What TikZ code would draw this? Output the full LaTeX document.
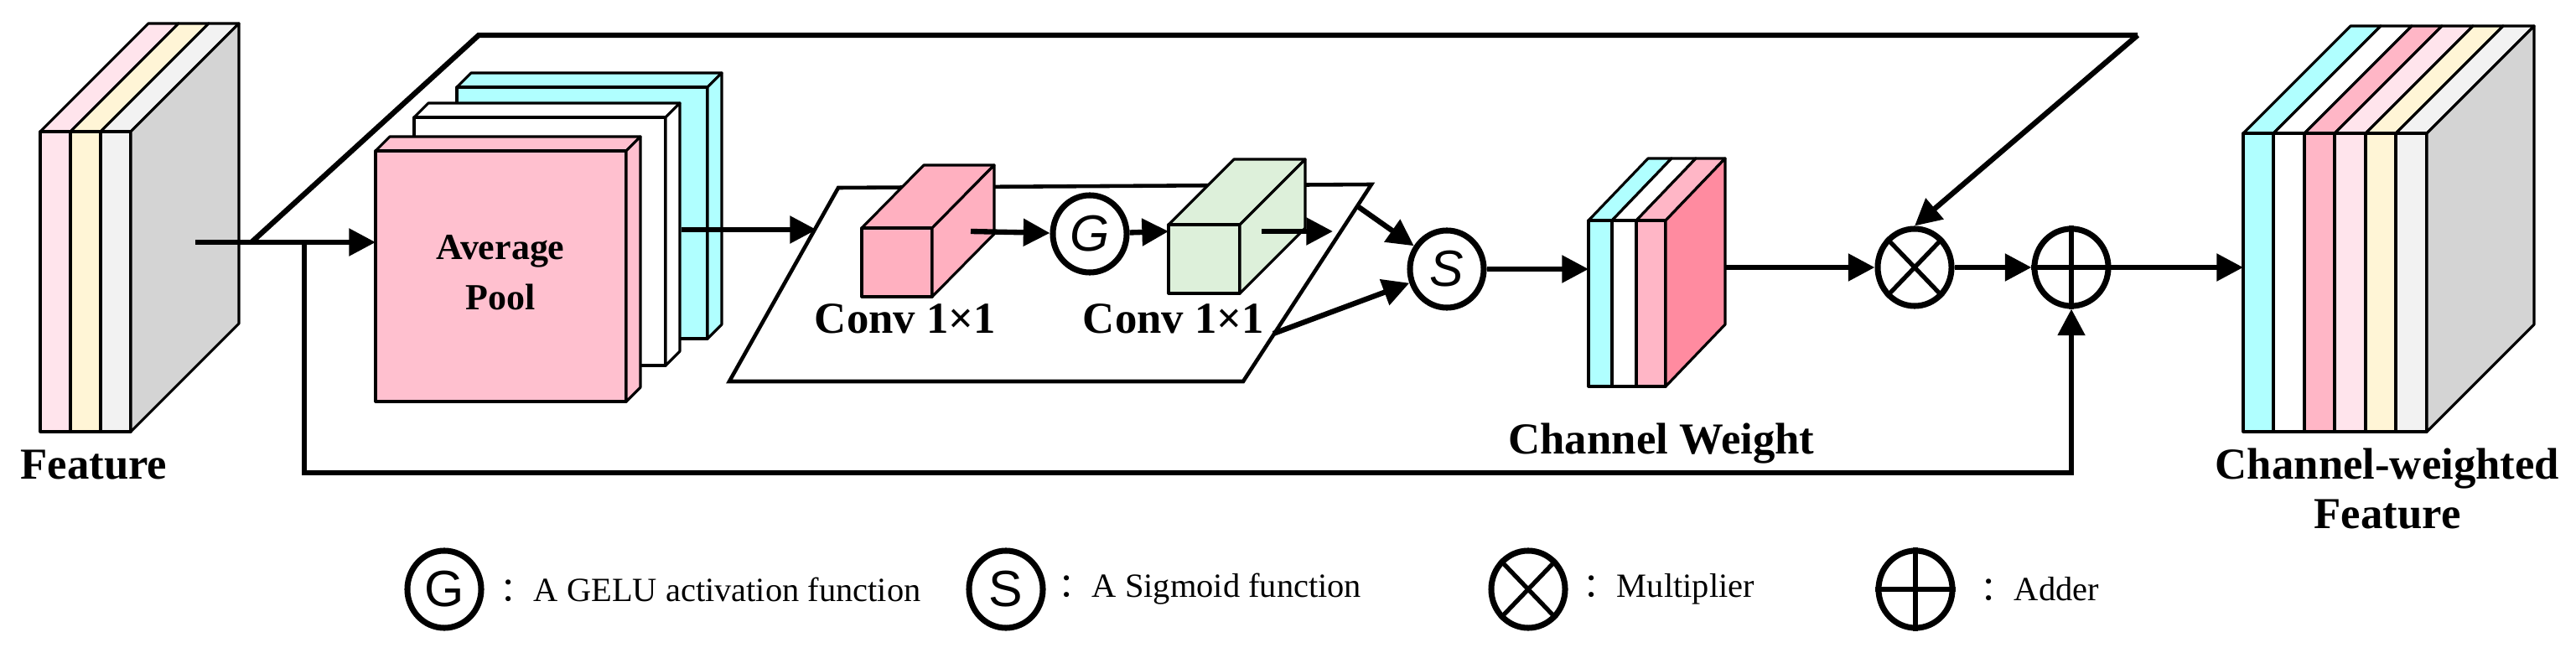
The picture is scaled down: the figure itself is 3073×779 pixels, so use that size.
\documentclass[tikz,border=0pt]{standalone}
\usepackage{fontspec}
\setmainfont{Liberation Serif}
\newfontfamily\cjk{Noto Sans CJK SC}
\newfontfamily\opfont{Liberation Sans}
\usetikzlibrary{arrows.meta, positioning, calc, shapes.geometric}
\definecolor{featpink}{HTML}{FFE4EC}
\definecolor{featyellow}{HTML}{FFF5D6}
\definecolor{featgray}{HTML}{F2F2F2}
\definecolor{sidegray}{HTML}{D4D4D4}
\definecolor{poolpink}{HTML}{FFC0CF}
\definecolor{poolcyan}{HTML}{B0FFFF}
\definecolor{convpink}{HTML}{FFB0C0}
\definecolor{convgreen}{HTML}{DDF0DA}
\definecolor{wpink}{HTML}{FFB6C6}
\definecolor{wside}{HTML}{FF8BA0}
\tikzset{
    face/.style={draw=black, line width=0.9pt, line join=round},
    line/.style={draw=black, line width=1.8pt, -{Triangle[length=9pt, width=9pt]}},
    plain/.style={draw=black, line width=1.8pt},
    op/.style={draw=black, line width=2pt, ellipse, minimum width=0.88cm, minimum height=0.92cm, inner sep=0pt, fill=white, font=\opfont\LARGE},
    label/.style={font=\bfseries\fontsize{15}{17}\selectfont, align=center},
    legend/.style={font=\fontsize{11.5}{13}\selectfont, anchor=west}
}
% one strip: front face and top face
\newcommand{\strip}[7]{%
    \filldraw[face, fill=#7] (#1,#3) -- ({#1+#5},{#3-#6}) -- ({#2+#5},{#3-#6}) -- (#2,#3) -- cycle;
    \filldraw[face, fill=#7] (#1,#3) rectangle (#2,#4);
}
% side face of a stack
\newcommand{\side}[6]{%
    \filldraw[face, fill=#6] (#1,#2) -- ({#1+#4},{#2-#5}) -- ({#1+#4},{#3-#5}) -- (#1,#3) -- cycle;
}
\newcommand{\cube}[7]{\strip{#1}{#2}{#3}{#4}{#5}{#6}{#7}\side{#2}{#3}{#4}{#5}{#6}{#7}}
\begin{document}
\begin{tikzpicture}[x=0.01cm, y=-0.01cm]
    \useasboundingbox (0,0) rectangle (3073,779);

    % input feature
    \strip{48}{84}{157}{515}{129}{129}{featpink}
    \strip{84}{120}{157}{515}{129}{129}{featyellow}
    \strip{120}{156}{157}{515}{129}{129}{featgray}
    \side{156}{157}{515}{129}{129}{sidegray}
    \node [label] (Feature) at (112,555) {Feature};

    % skip branch and top branch
    \coordinate (Src) at (233,289);
    \coordinate (Fork) at (300,289);
    \coordinate (Skip) at (363,289);
    \coordinate (TopL) at (571,42);
    \coordinate (TopR) at (2550,42);
    \draw [plain] (Fork) -- (TopL) -- (TopR);

    % average pool
    \cube{545}{844}{104}{404}{17}{17}{poolcyan}
    \cube{494}{794}{140}{436}{17}{17}{white}
    \cube{448}{747}{180}{479}{17}{17}{poolpink}
    \node [font=\bfseries\fontsize{12.5}{17}\selectfont, align=center] (Pool) at (597,325) {Average\\Pool};
    \coordinate (PoolIn) at (448,289);
    \coordinate (PoolOut) at (813,274);
    \coordinate (ParaIn) at (974,274);

    % squeeze plane
    \filldraw [draw=black, line width=1.3pt, fill=white] (870,455) -- (1000,224) -- (1636,220) -- (1483,455) -- cycle;
    \cube{1028}{1112}{272}{354}{74}{75}{convpink}
    \cube{1394}{1479}{268}{350}{78}{78}{convgreen}
    \node [label] (ConvA) at (1080,380) {Conv 1×1};
    \node [label] (ConvB) at (1400,380) {Conv 1×1};
    \node [op] (G) at (1300,279) {\textit{G}};
    \node [op] (S) at (1726,321) {\textit{S}};
    \coordinate (ConvAOut) at (1158,276);
    \coordinate (ConvBIn) at (1394,276);
    \coordinate (ConvBOut) at (1505,276);
    \coordinate (ConvBEnd) at (1590,276);
    \coordinate (ParaTop) at (1618,245);
    \coordinate (ParaBot) at (1519,398);

    % channel weight
    \strip{1895}{1923}{263}{461}{71}{74}{poolcyan}
    \strip{1923}{1952}{263}{461}{71}{74}{white}
    \strip{1952}{1987}{263}{461}{71}{74}{wpink}
    \side{1987}{263}{461}{71}{74}{wside}
    \node [label] (Weight) at (1982,529) {Channel Weight};
    \coordinate (WeightIn) at (1895,321);
    \coordinate (WeightOut) at (2058,319);

    % operators
    \node [op] (Mul) at (2284,319) {};
    \draw [line width=1.5pt] (Mul.north west) -- (Mul.south east) (Mul.north east) -- (Mul.south west);
    \node [op] (Add) at (2471,319) {};
    \draw [line width=1.5pt] (Add.north) -- (Add.south) (Add.west) -- (Add.east);

    % output feature
    \strip{2676}{2712}{159}{515}{128}{128}{poolcyan}
    \strip{2712}{2749}{159}{515}{128}{128}{white}
    \strip{2749}{2785}{159}{515}{128}{128}{wpink}
    \strip{2785}{2822}{159}{515}{128}{128}{featpink}
    \strip{2822}{2858}{159}{515}{128}{128}{featyellow}
    \strip{2858}{2895}{159}{515}{128}{128}{featgray}
    \side{2895}{159}{515}{128}{128}{sidegray}
    \node [label] (Out) at (2848,583) {Channel-weighted\\Feature};
    \coordinate (OutIn) at (2676,319);

    % connectors
    \draw [line] (Src) -- (PoolIn);
    \draw [line] (Skip) |- (2471,564) -- (Add.south);
    \draw [line] (TopR) -- (Mul.north);
    \draw [line] (PoolOut) -- (ParaIn);
    \draw [line] (ConvAOut) -- (G);
    \draw [line] (G) -- (ConvBIn);
    \draw [line] (ConvBOut) -- (ConvBEnd);
    \draw [line] (ParaTop) -- (S);
    \draw [line] (ParaBot) -- (S);
    \draw [line] (S) -- (WeightIn);
    \draw [line] (WeightOut) -- (Mul);
    \draw [line] (Mul) -- (Add);
    \draw [line] (Add) -- (OutIn);

    % legend
    \node [op] (LegG) at (530,703) {G};
    \node [legend] at (584,703) {{\cjk ：}A GELU activation function};
    \node [op] (LegS) at (1200,703) {S};
    \node [legend] at (1250,703) {{\cjk ：}A Sigmoid function};
    \node [op] (LegMul) at (1823,703) {};
    \draw [line width=1.5pt] (LegMul.north west) -- (LegMul.south east) (LegMul.north east) -- (LegMul.south west);
    \node [legend] at (1876,703) {{\cjk ：}Multiplier};
    \node [op] (LegAdd) at (2285,703) {};
    \draw [line width=1.5pt] (LegAdd.north) -- (LegAdd.south) (LegAdd.west) -- (LegAdd.east);
    \node [legend] at (2350,703) {{\cjk ：}Adder};
\end{tikzpicture}
\end{document}
